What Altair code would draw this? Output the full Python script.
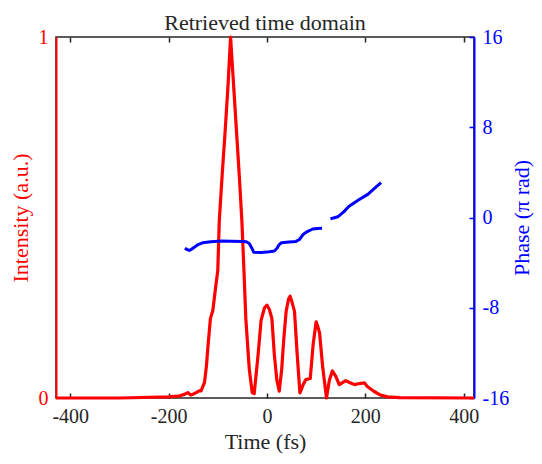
import altair as alt
import pandas as pd

# ---- data ----
time_fs = [-429, -300, -200, -180, -168, -161, -155, -148, -144, -138, -134, -127, -123, -120, -115,
           -110, -105, -100, -97, -91, -85, -79, -74, -68, -62, -56, -51, -47, -43, -36,
           -30, -26, -18, -12, -5, 0, 5, 10, 15, 20, 25, 30, 34, 39, 44,
           47, 51, 56, 61, 67, 73, 79, 88, 94, 100, 104, 107, 113, 121, 127,
           133, 140, 147, 153, 160, 168, 178, 188, 198, 204, 218, 231, 245, 270, 421]
intensity = [0, 0, 0.003, 0.005, 0.01, 0.015, 0.008, 0.012, 0.015, 0.02, 0.02, 0.043, 0.09, 0.142, 0.22,
             0.243, 0.30, 0.353, 0.49, 0.62, 0.74, 0.87, 1.0, 0.87, 0.74, 0.61, 0.49, 0.36, 0.22, 0.08,
             0.015, 0.012, 0.12, 0.215, 0.25, 0.257, 0.245, 0.22, 0.12, 0.05, 0.019, 0.08, 0.16, 0.24, 0.275,
             0.282, 0.265, 0.24, 0.13, 0.014, 0.035, 0.051, 0.054, 0.15, 0.211, 0.195, 0.18, 0.09, 0.0, 0.05,
             0.075, 0.06, 0.037, 0.042, 0.048, 0.043, 0.037, 0.04, 0.042, 0.032, 0.018, 0.008, 0.003, 0.001, 0]

phase_t1 = [-167, -162, -158, -153, -147, -140, -131, -114, -93, -73, -50, -42, -36, -31, -27,
            -12, 5, 15, 20, 25, 29, 45, 59, 66, 74, 82, 93, 102, 112]
phase_v1 = [-2.72, -2.85, -2.92, -2.8, -2.62, -2.4, -2.24, -2.15, -2.08, -2.1, -2.12, -2.15, -2.3, -2.7, -3.08,
            -3.1, -3.04, -2.97, -2.75, -2.4, -2.24, -2.17, -2.12, -1.95, -1.48, -1.25, -1.02, -0.98, -0.95]
phase_t2 = [129, 137, 144, 156, 167, 186, 205, 218, 232]
phase_v2 = [-0.12, -0.02, 0.06, 0.5, 1.0, 1.55, 2.05, 2.55, 3.1]

x_ticks = [-400, -200, 0, 200, 400]
left_ticks = [0, 1]
right_ticks = [-16, -8, 0, 8, 16]

RED = "#ff0000"
BLUE = "#0000ff"
DARK = "#262626"
FONT = "Liberation Serif"
W, H = 418, 361
X_DOMAIN = [-429, 421]
LABEL_FS = 20
TITLE_FS = 22

df_i = pd.DataFrame({"t": time_fs, "I": intensity})
df_p1 = pd.DataFrame({"t": phase_t1, "phi": phase_v1})
df_p2 = pd.DataFrame({"t": phase_t2, "phi": phase_v2})

xscale = alt.Scale(domain=X_DOMAIN, nice=False, zero=False)
pscale = alt.Scale(domain=[-16, 16], nice=False, zero=False)
plain = "'' + datum.value"

intensity_layer = alt.Chart(df_i).mark_line(color=RED, strokeWidth=3.2, strokeJoin="round").encode(
    x=alt.X("t:Q", scale=xscale,
            axis=alt.Axis(orient="bottom", values=x_ticks, labelExpr=plain, title="Time (fs)",
                          domain=False, ticks=True, tickSize=5, offset=-5, tickColor=DARK, tickWidth=1.5,
                          labelPadding=8, labelFontSize=LABEL_FS, labelColor=DARK, labelFlush=False,
                          titleFontSize=TITLE_FS, titleColor=DARK, titleFontWeight="normal", titlePadding=5,
                          grid=False)),
    y=alt.Y("I:Q", scale=alt.Scale(domain=[0, 1], nice=False),
            axis=alt.Axis(orient="left", values=left_ticks, labelExpr=plain, ticks=False, domain=True,
                          domainColor=RED, domainWidth=2, labelColor=RED, labelFontSize=LABEL_FS,
                          labelPadding=8, title="Intensity (a.u.)", titleColor=RED, titleFontSize=TITLE_FS,
                          titleFontWeight="normal", titlePadding=6, grid=False)),
)

phase_layer1 = alt.Chart(df_p1).mark_line(color=BLUE, strokeWidth=3, strokeJoin="round").encode(
    x=alt.X("t:Q", scale=xscale,
            axis=alt.Axis(orient="top", values=x_ticks, labels=False, domain=False, ticks=True,
                          tickSize=5, offset=-5, tickColor=DARK, tickWidth=1.5, title=None, grid=False)),
    y=alt.Y("phi:Q", scale=pscale,
            axis=alt.Axis(orient="right", values=right_ticks, labelExpr=plain, domain=False, ticks=True,
                          tickSize=5, offset=-5, tickColor=BLUE, tickWidth=1.5, labelColor=BLUE,
                          labelFontSize=LABEL_FS, labelPadding=8, title="Phase (π rad)", titleColor=BLUE,
                          titleFontSize=TITLE_FS, titleFontWeight="normal", titleAngle=270,
                          titleBaseline="top", titlePadding=3, grid=False)),
)

phase_layer2 = alt.Chart(df_p2).mark_line(color=BLUE, strokeWidth=3, strokeJoin="round").encode(
    x=alt.X("t:Q", scale=xscale, axis=None),
    y=alt.Y("phi:Q", scale=pscale,
            axis=alt.Axis(orient="right", labels=False, ticks=False, domain=True, domainColor=BLUE,
                          domainWidth=2, title=None, grid=False)),
)

chart = alt.layer(intensity_layer, phase_layer1, phase_layer2).resolve_scale(
    y="independent"
).resolve_axis(
    x="independent", y="independent"
).properties(
    width=W, height=H,
    title=alt.TitleParams("Retrieved time domain", fontSize=TITLE_FS, font=FONT, fontWeight="normal",
                          color=DARK, anchor="middle", offset=-8),
    padding={"left": 48, "top": 29, "right": 60, "bottom": 56},
    autosize=alt.AutoSizeParams(type="none"),
).configure(font=FONT).configure_view(stroke=DARK, strokeWidth=1.5).configure_axis(
    labelFont=FONT, titleFont=FONT
)

chart.save("out.html", embed_options={"renderer": "svg", "actions": False})
